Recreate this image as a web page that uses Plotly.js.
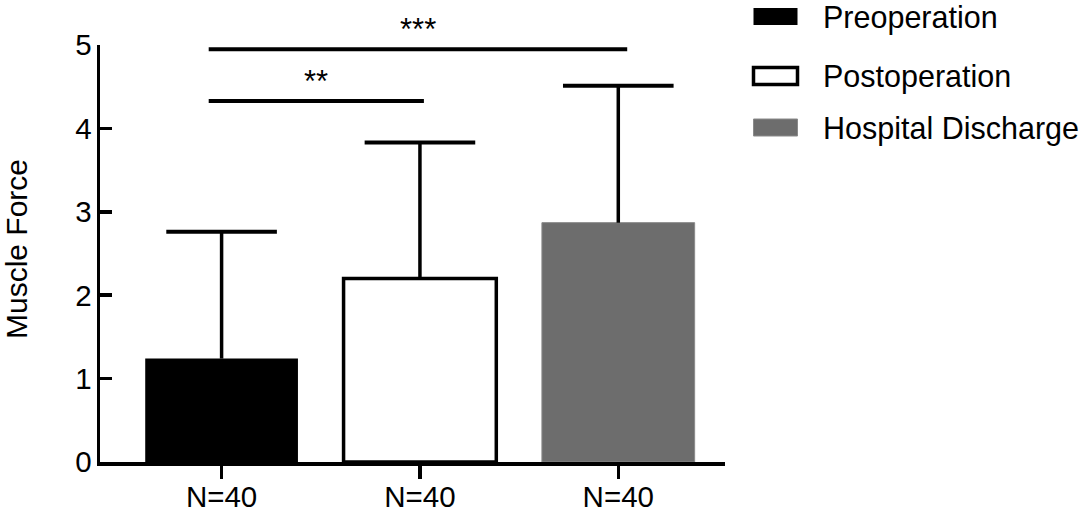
<!DOCTYPE html>
<html>
<head>
<meta charset="utf-8">
<script src="https://cdn.plot.ly/plotly-3.0.1.min.js"></script>
<style>
  html, body { margin: 0; padding: 0; background: #ffffff; }
  #chart { width: 1084px; height: 512px; }
</style>
</head>
<body>
<div id="chart"></div>
<script>
// ---- data ----
var categories = ["N=40", "N=40 ", "N=40  "];
var tickLabels = ["N=40", "N=40", "N=40"];
var groups = ["Preoperation", "Postoperation", "Hospital Discharge"];
var means = [1.24, 2.20, 2.87];
var errors = [1.52, 1.63, 1.64];
var yTicks = [0, 1, 2, 3, 4, 5];
// significance comparisons
var sigFrom = [0, 0];
var sigTo = [1, 2];
var sigLabels = ["**", "***"];
var sigHeights = [4.33, 4.95];

// ---- styles ----
var fillColors = ["#000000", "#ffffff", "#6d6d6d"];
var lineColors = ["#000000", "#000000", "#8a8a8a"];
var lineWidths = [0, 3.5, 1];
var FONT = "Liberation Sans, Arial, sans-serif";

var W = 1084, H = 512;
var mL = 100, mR = 359, mT = 45, mB = 50;
var plotW = W - mL - mR, plotH = H - mT - mB;
function px2x(px) { return (px - mL) / plotW; }
function py2y(py) { return (H - mB - py) / plotH; }

var tops = means.map(function (m, i) { return m + errors[i]; });

var barTrace = {
  type: "bar",
  x: categories,
  y: means,
  width: 0.77,
  marker: {
    color: fillColors,
    line: { color: lineColors, width: lineWidths }
  },
  error_y: {
    type: "data",
    symmetric: false,
    array: errors,
    arrayminus: [0, 0, 0],
    width: 0,
    thickness: 3.5,
    color: "#000000"
  },
  showlegend: false,
  hoverinfo: "skip"
};

var capTrace = {
  type: "scatter",
  mode: "markers",
  x: categories,
  y: tops,
  marker: {
    symbol: "line-ew",
    size: 79,
    color: "#000000",
    line: { color: "#000000", width: 4 }
  },
  cliponaxis: false,
  showlegend: false,
  hoverinfo: "skip"
};

var shapes = [];
var annotations = [];

// significance brackets
for (var i = 0; i < sigLabels.length; i++) {
  var xa = sigFrom[i] - 0.065;
  var xb = sigTo[i] + (sigTo[i] === 2 ? 0.045 : 0.02);
  shapes.push({
    type: "line", xref: "x", yref: "y",
    x0: xa, x1: xb,
    y0: sigHeights[i], y1: sigHeights[i],
    line: { color: "#000000", width: 4 }
  });
  annotations.push({
    xref: "x", yref: "y",
    x: (xa + xb) / 2,
    y: sigHeights[i],
    text: sigLabels[i],
    showarrow: false,
    yanchor: "bottom",
    yshift: 0,
    font: { family: FONT, size: 31, color: "#000000" }
  });
}

// custom legend
var legY = [16.5, 76, 127.5];
for (var j = 0; j < groups.length; j++) {
  shapes.push({
    type: "rect", xref: "paper", yref: "paper",
    x0: px2x(753.5), x1: px2x(797.5),
    y0: py2y(legY[j] - 8.5), y1: py2y(legY[j] + 8.5),
    fillcolor: fillColors[j],
    line: { color: lineColors[j], width: j === 1 ? 3.5 : (j === 2 ? 1 : 0) }
  });
  annotations.push({
    xref: "paper", yref: "paper",
    x: px2x(821), y: py2y(legY[j] + 1),
    xanchor: "left", yanchor: "middle",
    text: groups[j],
    showarrow: false,
    font: { family: FONT, size: 30.5, color: "#000000" }
  });
}

// y axis title
annotations.push({
  xref: "paper", yref: "paper",
  x: px2x(17), y: py2y(249),
  xanchor: "center", yanchor: "middle",
  text: "Muscle Force",
  textangle: -90,
  showarrow: false,
  font: { family: FONT, size: 30, color: "#000000" }
});

var layout = {
  width: W, height: H,
  margin: { l: mL, r: mR, t: mT, b: mB, pad: 0 },
  paper_bgcolor: "#ffffff",
  plot_bgcolor: "#ffffff",
  showlegend: false,
  xaxis: {
    type: "category",
    range: [-0.613, 2.538],
    tickvals: categories,
    ticktext: tickLabels,
    showline: true, linecolor: "#000000", linewidth: 3.5,
    ticks: "outside", ticklen: 13, tickwidth: 3.5, tickcolor: "#000000",
    ticklabelstandoff: -7,
    showgrid: false, zeroline: false,
    tickfont: { family: FONT, size: 29.5, color: "#000000" },
    fixedrange: true
  },
  yaxis: {
    range: [0, 5],
    tickvals: yTicks,
    showline: true, linecolor: "#000000", linewidth: 3.5,
    ticks: "inside", ticklen: 12, tickwidth: 3.5, tickcolor: "#000000",
    ticklabelstandoff: -1,
    showgrid: false, zeroline: false,
    tickfont: { family: FONT, size: 29.5, color: "#000000" },
    fixedrange: true
  },
  shapes: shapes,
  annotations: annotations
};

Plotly.newPlot("chart", [barTrace, capTrace], layout, { staticPlot: true, displayModeBar: false });
</script>
</body>
</html>
